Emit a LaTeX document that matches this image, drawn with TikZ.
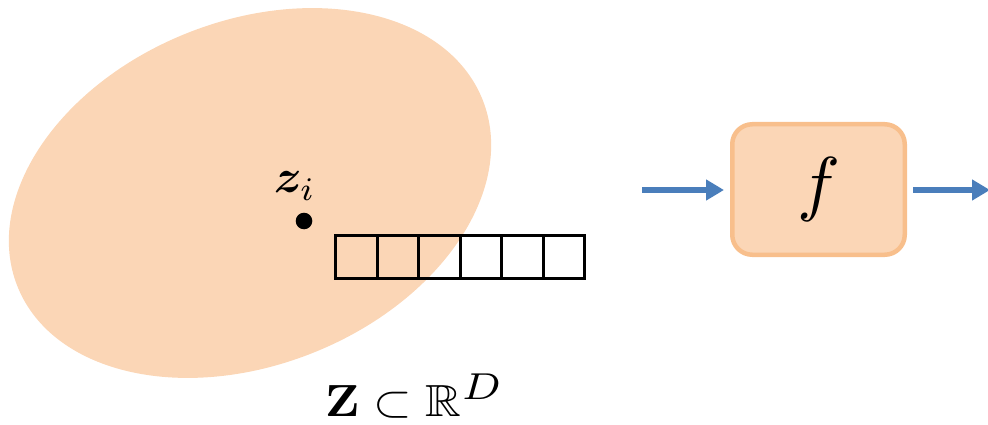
\documentclass[tikz,border=0pt]{standalone}
\usepackage{amsmath,amssymb,bm}
\usetikzlibrary{arrows.meta}
\definecolor{peach}{HTML}{FBD6B6}
\definecolor{peachborder}{HTML}{F8BF8C}
\definecolor{arrowblue}{HTML}{4A7EBB}
\begin{document}
\begin{tikzpicture}[x=1pt,y=1pt,
  fbox/.style={draw=peachborder, fill=peach, line width=4.5pt, rounded corners=20pt,
    minimum width=172.5pt, minimum height=130.5pt, inner sep=0pt},
  flow/.style={draw=arrowblue, line width=6pt, -{Triangle[length=18pt,width=20pt]}},
  cell/.style={draw=black, line width=3pt},
  biglabel/.style={inner sep=0pt, scale=4.7},
  setlabel/.style={inner sep=0pt, xscale=4.95, yscale=4.5},
  flabel/.style={inner sep=0pt, scale=7.2},
]
\useasboundingbox (0,0) rectangle (988,-425);
% latent space
\fill[peach, rotate around={22:(250,-193)}] (250,-193) ellipse [x radius=250.6, y radius=171.8];
% point z_i
\fill (304,-221) circle [radius=8.3];
\node[biglabel, anchor=base west] (zi) at (273,-193) {$\bm{z}_i$};
% vector cells
\foreach \i in {0,...,5}
  \draw[cell] (335.7+41.5*\i,-235.5) rectangle ++(41.5,-42.5);
% set label
\node[setlabel, anchor=base west] (Z) at (324,-416) {$\mathbf{Z}\subset\mathbb{R}^{\scalebox{1.19}{$\scriptstyle D$}}$};
% function box
\node[fbox] (f) at (818.5,-189.5) {};
\node[flabel] (fl) at (f.center) {$f$};
\coordinate (inL) at (642,-190);
\coordinate (outR) at (990,-190);
\draw[flow, shorten >=6pt] (inL) -- (f.west |- inL);
\draw[flow, shorten <=6pt] (f.east |- outR) -- (outR);
\end{tikzpicture}
\end{document}
